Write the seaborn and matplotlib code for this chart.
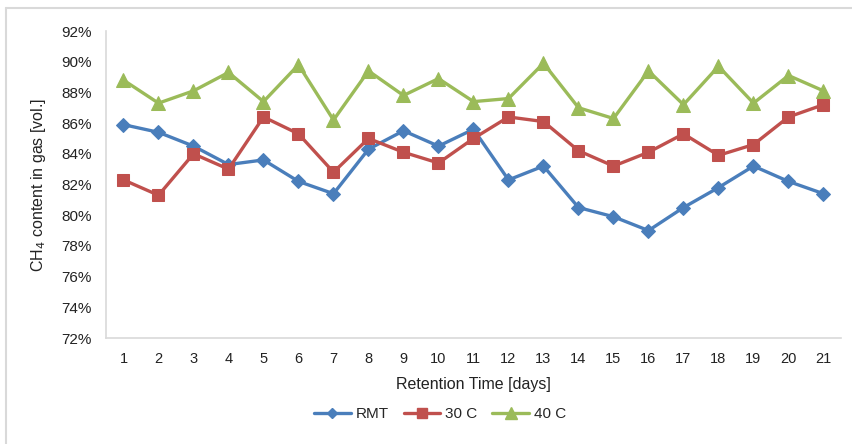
import matplotlib
matplotlib.use("Agg")
import matplotlib.pyplot as plt
import seaborn as sns
import pandas as pd
from matplotlib.lines import Line2D

days = list(range(1, 22))
rmt = [85.9, 85.4, 84.5, 83.3, 83.6, 82.2, 81.4, 84.3, 85.5, 84.5, 85.6,
       82.3, 83.2, 80.5, 79.9, 79.0, 80.5, 81.8, 83.2, 82.2, 81.4]
c30 = [82.3, 81.3, 84.0, 83.0, 86.4, 85.3, 82.8, 85.0, 84.1, 83.4, 85.0,
       86.4, 86.1, 84.2, 83.2, 84.1, 85.3, 83.9, 84.6, 86.4, 87.2]
c40 = [88.8, 87.3, 88.1, 89.3, 87.4, 89.8, 86.2, 89.4, 87.8, 88.9, 87.4,
       87.6, 89.9, 87.0, 86.3, 89.4, 87.2, 89.7, 87.3, 89.1, 88.1]
series_names = ["RMT", "30 C", "40 C"]
yticks = [72, 74, 76, 78, 80, 82, 84, 86, 88, 90, 92]

df = pd.concat([
    pd.DataFrame({"day": days, "value": v, "series": n})
    for n, v in zip(series_names, [rmt, c30, c40])
])

sns.set_style("white")
plt.rcParams["font.family"] = ["Liberation Sans", "DejaVu Sans"]

colors = {"RMT": "#4A7EBB", "30 C": "#C0504D", "40 C": "#9BBB59"}
markers = {"RMT": "D", "30 C": "s", "40 C": "^"}
msizes = {"RMT": 7, "30 C": 9, "40 C": 10}

fig = plt.figure(figsize=(8.53, 4.44), dpi=100)
ax = fig.add_axes([106/853, 1 - 338/444, (841-106)/853, (338-31)/444])

for n in series_names:
    sns.lineplot(data=df[df.series == n], x="day", y="value", ax=ax,
                 color=colors[n], marker=markers[n], markersize=msizes[n],
                 markeredgecolor=colors[n], linewidth=2.4, legend=False)

ax.set_xlim(0.5, 21.5)
ax.set_ylim(72, 92)
ax.set_xticks(days)
ax.set_xticklabels([str(d) for d in days], fontsize=10.5, color="#222222")
ax.set_yticks(yticks)
ax.set_yticklabels([f"{t}%" for t in yticks], fontsize=11, color="#222222")
ax.tick_params(length=0, pad=10)
for s in ["top", "right"]:
    ax.spines[s].set_visible(False)
for s in ["left", "bottom"]:
    ax.spines[s].set_color("#D9D9D9")
    ax.spines[s].set_linewidth(1.2)

ax.set_xlabel("Retention Time [days]", fontsize=11.5, color="#222222", labelpad=8)
ax.set_ylabel("CH$_4$ content in gas [vol.]", fontsize=11.5, color="#222222", labelpad=10)

handles = [Line2D([0], [0], color=colors[n], marker=markers[n],
                  markersize=msizes[n] * 0.8, linewidth=2.4) for n in series_names]
fig.legend(handles, series_names, loc="center", bbox_to_anchor=(440/853, 1 - 414/444),
           ncol=3, frameon=False, fontsize=11, handlelength=2.4,
           columnspacing=1.0, handletextpad=0.3)

# outer chart frame (partially visible)
fig.add_artist(Line2D([6/853, 6/853], [0, 1 - 8/444], transform=fig.transFigure,
                      color="#D9D9D9", linewidth=1.5))
fig.add_artist(Line2D([6/853, 1], [1 - 8/444, 1 - 8/444], transform=fig.transFigure,
                      color="#D9D9D9", linewidth=1.5))

fig.savefig("out.png", dpi=100, facecolor="white")
